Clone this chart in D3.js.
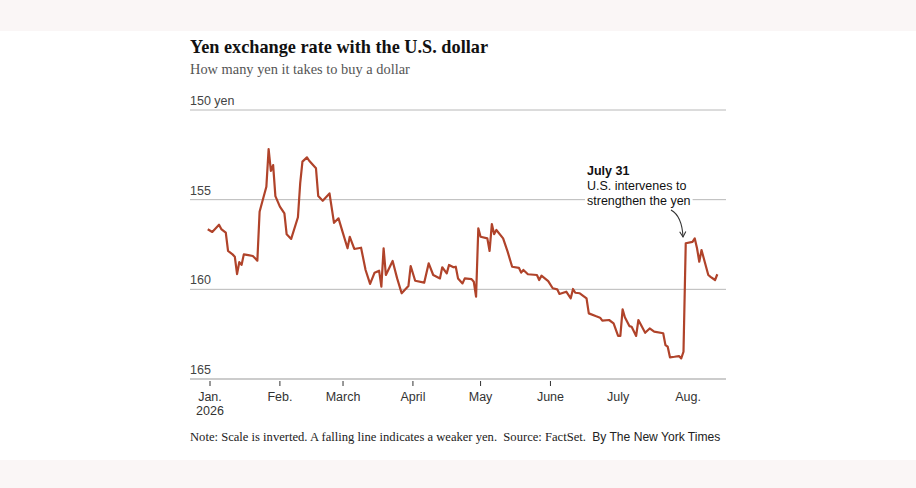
<!DOCTYPE html>
<html>
<head>
<meta charset="utf-8">
<script src="https://cdn.jsdelivr.net/npm/d3@7"></script>
<style>
  body { margin: 0; background: #faf6f6; }
  svg { display: block; }
</style>
</head>
<body>
<div id="container"></div>
<script>
// trading days
const dates = [
  "2025-12-31", "2026-01-02", "2026-01-05", "2026-01-06", "2026-01-08", "2026-01-09",
  "2026-01-11", "2026-01-12", "2026-01-13", "2026-01-14", "2026-01-15", "2026-01-16",
  "2026-01-18", "2026-01-20", "2026-01-22", "2026-01-23", "2026-01-24", "2026-01-26",
  "2026-01-27", "2026-01-28", "2026-01-29", "2026-01-30", "2026-02-01", "2026-02-03",
  "2026-02-04", "2026-02-06", "2026-02-09", "2026-02-10", "2026-02-11", "2026-02-13",
  "2026-02-14", "2026-02-17", "2026-02-18", "2026-02-20", "2026-02-23", "2026-02-25",
  "2026-02-27", "2026-03-01", "2026-03-03", "2026-03-04", "2026-03-06", "2026-03-09",
  "2026-03-11", "2026-03-13", "2026-03-15", "2026-03-17", "2026-03-18", "2026-03-19",
  "2026-03-20", "2026-03-23", "2026-03-25", "2026-03-27", "2026-03-30", "2026-03-31",
  "2026-04-02", "2026-04-06", "2026-04-08", "2026-04-10", "2026-04-13", "2026-04-14",
  "2026-04-16", "2026-04-17", "2026-04-19", "2026-04-20", "2026-04-21", "2026-04-23",
  "2026-04-24", "2026-04-27", "2026-04-28", "2026-04-29", "2026-04-30", "2026-05-01",
  "2026-05-04", "2026-05-05", "2026-05-06", "2026-05-07", "2026-05-08", "2026-05-11",
  "2026-05-13", "2026-05-15", "2026-05-18", "2026-05-19", "2026-05-20", "2026-05-22",
  "2026-05-26", "2026-05-27", "2026-05-28", "2026-05-31", "2026-06-02", "2026-06-04",
  "2026-06-05", "2026-06-08", "2026-06-10", "2026-06-11", "2026-06-12", "2026-06-14",
  "2026-06-17", "2026-06-18", "2026-06-21", "2026-06-23", "2026-06-24", "2026-06-27",
  "2026-06-29", "2026-07-01", "2026-07-02", "2026-07-03", "2026-07-04", "2026-07-06",
  "2026-07-07", "2026-07-09", "2026-07-10", "2026-07-13", "2026-07-15", "2026-07-17",
  "2026-07-21", "2026-07-22", "2026-07-23", "2026-07-24", "2026-07-26", "2026-07-28",
  "2026-07-29", "2026-07-30", "2026-07-31", "2026-08-03", "2026-08-04", "2026-08-05",
  "2026-08-06", "2026-08-07", "2026-08-10", "2026-08-11", "2026-08-13", "2026-08-14"
];

// yen per dollar
const yen = [
  156.65, 156.80, 156.40, 156.64, 156.84, 157.86,
  158.05, 158.18, 159.15, 158.48, 158.64, 158.05,
  158.09, 158.14, 158.40, 155.67, 155.20, 154.28,
  152.18, 153.40, 153.07, 154.80, 155.39, 155.76,
  156.93, 157.19, 155.98, 154.09, 152.88, 152.64,
  152.83, 153.25, 154.80, 155.06, 154.65, 156.29,
  156.04, 156.88, 157.71, 157.07, 157.75, 157.68,
  158.92, 159.70, 159.07, 158.96, 159.85, 157.71,
  159.20, 158.42, 159.39, 160.22, 159.82, 158.70,
  159.52, 159.63, 158.55, 159.20, 159.39, 158.77,
  159.11, 158.64, 158.77, 158.74, 159.39, 159.67,
  159.39, 159.43, 159.58, 160.41, 156.60, 157.07,
  157.16, 157.86, 156.36, 156.92, 156.69, 157.16,
  157.90, 158.74, 158.80, 159.07, 158.92, 159.16,
  159.20, 159.48, 159.24, 159.54, 159.94, 160.00,
  160.26, 160.13, 160.50, 159.98, 160.19, 160.22,
  160.50, 161.34, 161.49, 161.58, 161.75, 161.71,
  161.90, 162.60, 162.60, 161.12, 161.56, 162.05,
  162.09, 162.60, 161.71, 162.42, 162.18, 162.36,
  162.45, 163.11, 163.20, 163.79, 163.76, 163.72,
  163.85, 163.48, 157.43, 157.35, 157.16, 157.71,
  158.46, 157.81, 159.20, 159.30, 159.48, 159.16
];

const yTicks = [150, 155, 160, 165];
const monthTicks = ["2026-01-01", "2026-02-01", "2026-03-01", "2026-04-01",
  "2026-05-01", "2026-06-01", "2026-07-01", "2026-08-01"];
const monthLabels = ["Jan.", "Feb.", "March", "April", "May", "June", "July", "Aug."];
const tickMarkCount = 6; // only Jan.-June carry tick marks in the original

const w = 916;
const h = 488;
const left = 190;
const right = 726;

const parseTime = d3.timeParse("%Y-%m-%d");
const dataset = dates.map((d, i) => [parseTime(d), yen[i]]);

const svg = d3
  .select("#container")
  .append("svg")
  .attr("width", w)
  .attr("height", h)
  .attr("viewBox", `0 0 ${w} ${h}`);

svg.append("rect")
  .attr("x", 0).attr("y", 31)
  .attr("width", w).attr("height", 429)
  .attr("fill", "#fff");

const sans = "'Liberation Sans', Arial, sans-serif";
const serif = "'Liberation Serif', 'Times New Roman', serif";

// scale is inverted: 150 on top
const yScale = d3.scaleLinear().domain([150, 165]).range([110, 379]);
const xScale = d3
  .scaleTime()
  .domain([parseTime("2026-01-01"), parseTime("2026-08-01")])
  .range([210, 688]);

svg.append("text")
  .attr("x", left).attr("y", 53)
  .attr("font-family", serif)
  .attr("font-weight", "bold")
  .attr("font-size", 19)
  .attr("textLength", 298)
  .attr("lengthAdjust", "spacingAndGlyphs")
  .attr("fill", "#111")
  .text("Yen exchange rate with the U.S. dollar");

svg.append("text")
  .attr("x", left).attr("y", 74)
  .attr("font-family", serif)
  .attr("font-size", 14.4)
  .attr("fill", "#555")
  .text("How many yen it takes to buy a dollar");

// grid lines
const grid = svg.append("g");
grid.selectAll("line")
  .data(yTicks)
  .enter()
  .append("line")
  .attr("x1", left).attr("x2", right)
  .attr("y1", (d) => yScale(d)).attr("y2", (d) => yScale(d))
  .attr("stroke", (d) => (d === 165 ? "#999" : "#b8b8b8"))
  .attr("stroke-width", 1);

grid.selectAll("text")
  .data(yTicks)
  .enter()
  .append("text")
  .attr("x", left)
  .attr("y", (d) => yScale(d) - 5)
  .attr("font-family", sans)
  .attr("font-size", 12.5)
  .attr("fill", "#444")
  .text((d) => (d === 150 ? d + " yen" : d));

// x axis
const xAxis = svg.append("g");
xAxis.selectAll("line")
  .data(monthTicks.slice(0, tickMarkCount))
  .enter()
  .append("line")
  .attr("x1", (d) => xScale(parseTime(d))).attr("x2", (d) => xScale(parseTime(d)))
  .attr("y1", yScale(165) + 2).attr("y2", yScale(165) + 7)
  .attr("stroke", "#333");

xAxis.selectAll("text")
  .data(monthTicks)
  .enter()
  .append("text")
  .attr("x", (d) => xScale(parseTime(d)))
  .attr("y", 401)
  .attr("text-anchor", "middle")
  .attr("font-family", sans)
  .attr("font-size", 12.5)
  .attr("fill", "#333")
  .text((d, i) => monthLabels[i]);

xAxis.append("text")
  .attr("x", xScale(parseTime(monthTicks[0])))
  .attr("y", 415)
  .attr("text-anchor", "middle")
  .attr("font-family", sans)
  .attr("font-size", 12.5)
  .attr("fill", "#333")
  .text("2026");

// the line
const line = d3.line()
  .x((d) => xScale(d[0]))
  .y((d) => yScale(d[1]));

svg.append("path")
  .datum(dataset)
  .attr("d", line)
  .attr("fill", "none")
  .attr("stroke", "#b0432a")
  .attr("stroke-width", 2.2)
  .attr("stroke-linejoin", "round");

// annotation
const note = svg.append("g").attr("transform", "translate(587, 0)");
const noteBg = note.append("rect").attr("fill", "#fff");
const noteText = note.append("text")
  .attr("font-family", sans)
  .attr("font-size", 12.5)
  .attr("fill", "#111");
noteText.append("tspan").attr("x", 0).attr("y", 175)
  .attr("font-weight", "bold").text("July 31");
noteText.append("tspan").attr("x", 0).attr("y", 190).text("U.S. intervenes to");
noteText.append("tspan").attr("x", 0).attr("y", 205).text("strengthen the yen");
const bb = noteText.node().getBBox();
noteBg.attr("x", bb.x - 2).attr("y", bb.y).attr("width", bb.width + 4).attr("height", bb.height);

svg.append("defs")
  .append("marker")
  .attr("id", "arrow")
  .attr("viewBox", "0 0 10 10")
  .attr("refX", 8).attr("refY", 5)
  .attr("markerWidth", 7).attr("markerHeight", 7)
  .attr("orient", "auto")
  .append("path")
  .attr("d", "M1,1 L8,5 L1,9")
  .attr("fill", "none")
  .attr("stroke", "#333")
  .attr("stroke-width", 1.4);

svg.append("path")
  .attr("d", "M671,210 Q682,216 683,237")
  .attr("fill", "none")
  .attr("stroke", "#333")
  .attr("stroke-width", 1.1)
  .attr("marker-end", "url(#arrow)");

// footer
const foot = svg.append("text")
  .attr("x", left).attr("y", 441)
  .attr("font-size", 12.6)
  .attr("fill", "#222");
foot.append("tspan")
  .attr("font-family", serif)
  .text("Note: Scale is inverted. A falling line indicates a weaker yen.\u00a0 Source: FactSet.\u00a0 ");
foot.append("tspan")
  .attr("font-family", sans)
  .attr("font-size", 12.1)
  .text("By The New York Times");
</script>
</body>
</html>
